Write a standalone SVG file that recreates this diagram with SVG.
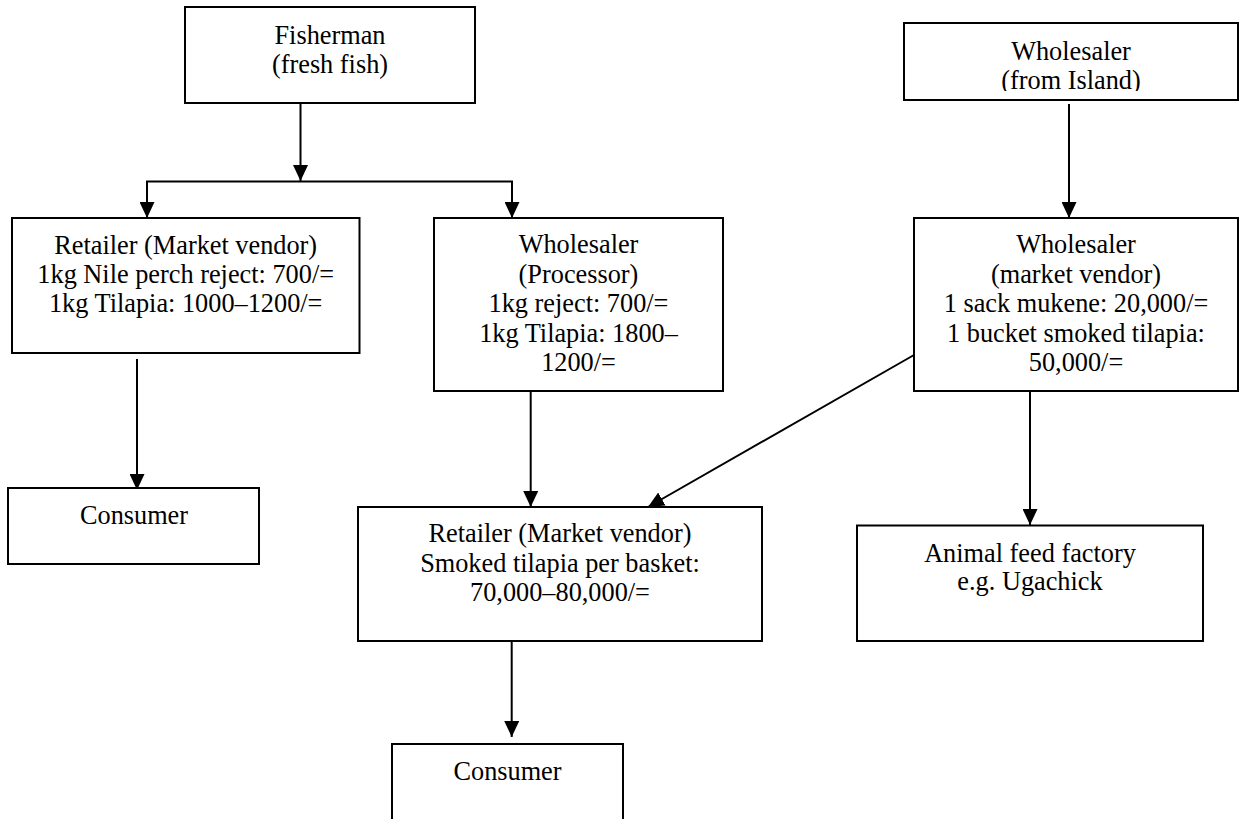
<svg xmlns="http://www.w3.org/2000/svg" width="1241" height="819" viewBox="0 0 1241 819">
<style>
.box{fill:#fff;stroke:#000;stroke-width:2}
.t{font-family:"Liberation Serif","Times New Roman",serif;font-size:26.3px;fill:#000;text-anchor:middle}
.c{fill:none;stroke:#000;stroke-width:2}
</style>
<defs>
<marker id="ah" markerWidth="16" markerHeight="15" refX="16" refY="7.5" orient="auto" markerUnits="userSpaceOnUse">
<path d="M0,0 L16,7.5 L0,15 Z" fill="#000"/>
</marker>
<clipPath id="clipIsland"><rect x="904" y="23" width="334" height="68"/></clipPath>
</defs>
<rect width="1241" height="819" fill="#fff"/>
<g id="connectors">
<line class="c" x1="300.5" y1="103" x2="300.5" y2="181" marker-end="url(#ah)"/>
<line class="c" x1="146" y1="181.5" x2="513" y2="181.5"/>
<line class="c" x1="147" y1="181.5" x2="147" y2="218" marker-end="url(#ah)"/>
<line class="c" x1="512" y1="181.5" x2="512" y2="218" marker-end="url(#ah)"/>
<line class="c" x1="137" y1="359" x2="137" y2="490" marker-end="url(#ah)"/>
<line class="c" x1="530.7" y1="391" x2="530.7" y2="507" marker-end="url(#ah)"/>
<line class="c" x1="914" y1="355" x2="648" y2="507" marker-end="url(#ah)"/>
<line class="c" x1="1069" y1="104" x2="1069" y2="218" marker-end="url(#ah)"/>
<line class="c" x1="1030" y1="391" x2="1030" y2="525" marker-end="url(#ah)"/>
<line class="c" x1="511.7" y1="641" x2="511.7" y2="737" marker-end="url(#ah)"/>
</g>
<g id="fisherman">
<rect class="box" x="185" y="7" width="290" height="96"/>
<text class="t" x="330" y="44">Fisherman</text>
<text class="t" x="330" y="73">(fresh fish)</text>
</g>
<g id="retailer-left">
<rect class="box" x="12" y="218" width="347.5" height="135"/>
<text class="t" x="185.7" y="254">Retailer (Market vendor)</text>
<text class="t" x="185.7" y="283">1kg Nile perch reject: 700/=</text>
<text class="t" x="185.7" y="312">1kg Tilapia: 1000–1200/=</text>
</g>
<g id="wholesaler-processor">
<rect class="box" x="434" y="218" width="289" height="173"/>
<text class="t" x="578.5" y="253">Wholesaler</text>
<text class="t" x="578.5" y="282.5">(Processor)</text>
<text class="t" x="578.5" y="312">1kg reject: 700/=</text>
<text class="t" x="578.5" y="341.5">1kg Tilapia: 1800–</text>
<text class="t" x="578.5" y="371">1200/=</text>
</g>
<g id="wholesaler-island">
<rect class="box" x="904" y="23" width="334" height="77"/>
<g clip-path="url(#clipIsland)">
<text class="t" x="1071" y="60">Wholesaler</text>
<text class="t" x="1071" y="89">(from Island)</text>
</g>
</g>
<g id="wholesaler-market">
<rect class="box" x="914" y="218" width="324" height="173"/>
<text class="t" x="1076" y="253">Wholesaler</text>
<text class="t" x="1076" y="282.5">(market vendor)</text>
<text class="t" x="1076" y="312">1 sack mukene: 20,000/=</text>
<text class="t" x="1076" y="341.5">1 bucket smoked tilapia:</text>
<text class="t" x="1076" y="371">50,000/=</text>
</g>
<g id="consumer-left">
<rect class="box" x="8" y="488" width="251" height="76"/>
<text class="t" x="134" y="524">Consumer</text>
</g>
<g id="retailer-bottom">
<rect class="box" x="358" y="507" width="404" height="134"/>
<text class="t" x="560" y="542">Retailer (Market vendor)</text>
<text class="t" x="560" y="572">Smoked tilapia per basket:</text>
<text class="t" x="560" y="601">70,000–80,000/=</text>
</g>
<g id="animal-feed">
<rect class="box" x="857" y="525.5" width="346" height="115.5"/>
<text class="t" x="1030" y="562">Animal feed factory</text>
<text class="t" x="1030" y="590">e.g. Ugachick</text>
</g>
<g id="consumer-bottom">
<rect class="box" x="392" y="744" width="231" height="90"/>
<text class="t" x="507.5" y="780">Consumer</text>
</g>
</svg>
